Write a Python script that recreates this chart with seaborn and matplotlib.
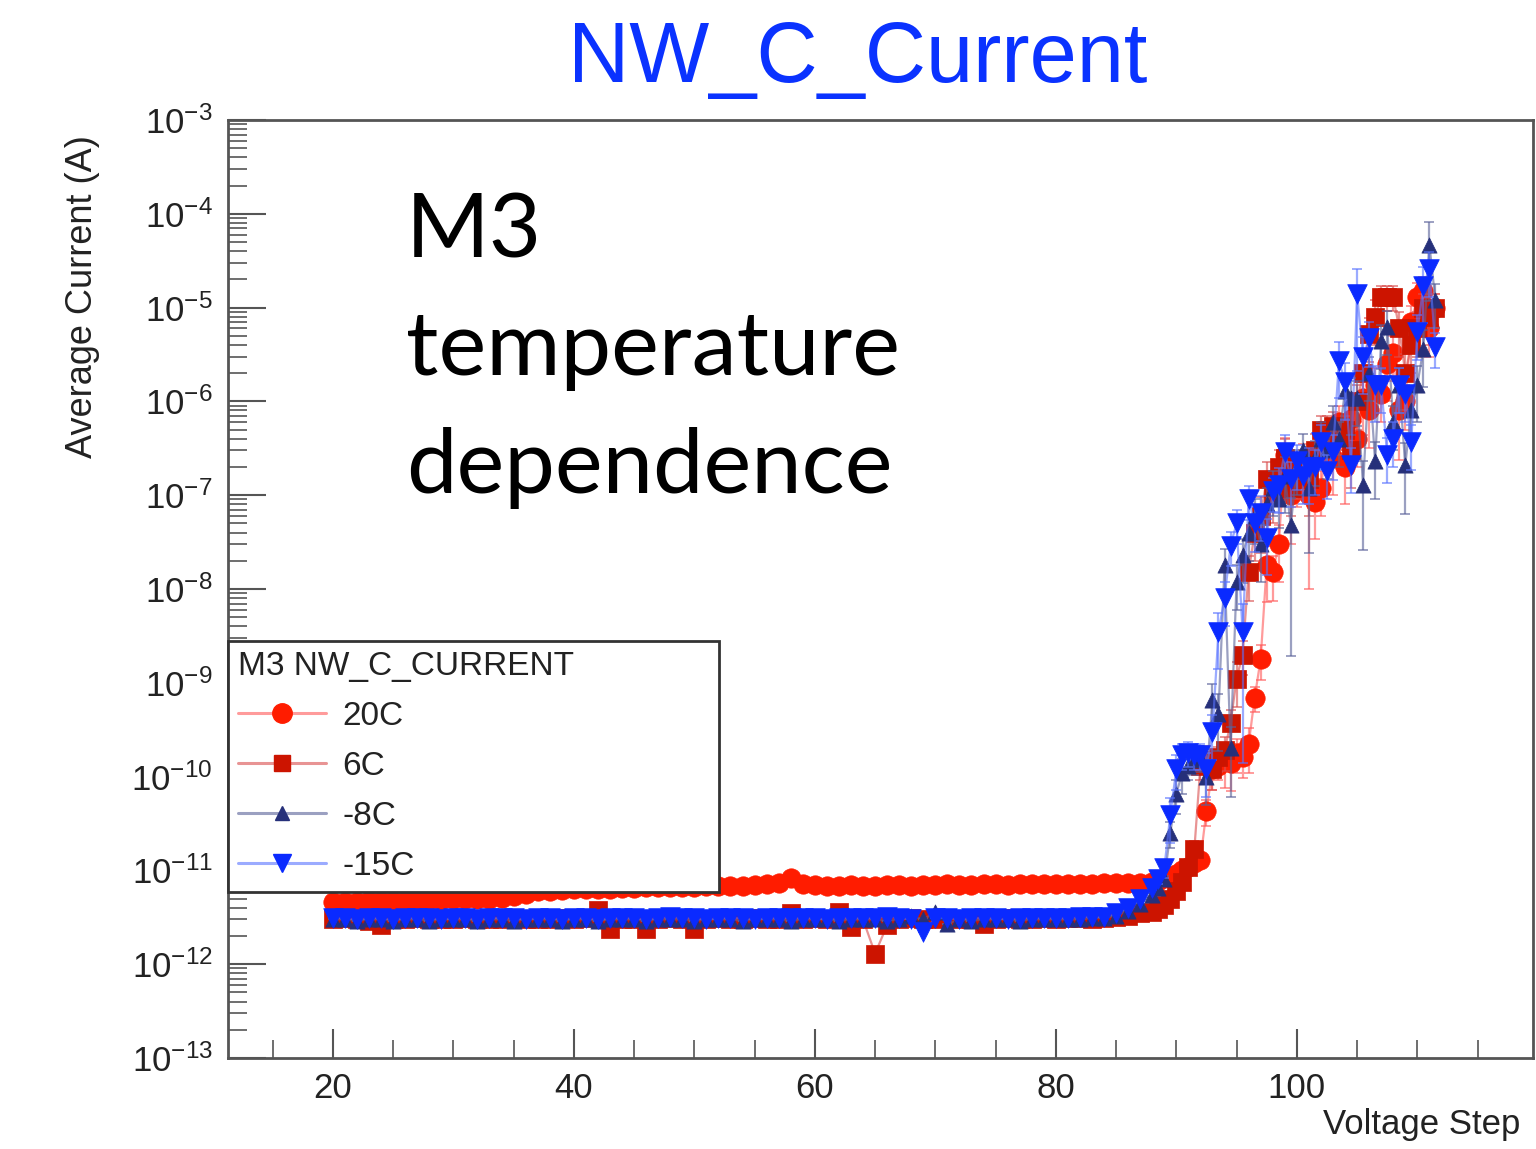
import numpy as np
import pandas as pd
import matplotlib
matplotlib.use("Agg")
import matplotlib.pyplot as plt
import seaborn as sns
from matplotlib.lines import Line2D
from matplotlib.ticker import MultipleLocator, FixedLocator, LogLocator, NullFormatter

# ---------------------------------------------------------------- data
# voltage steps: unit steps on the plateau, half steps through breakdown
steps_flat = list(range(20, 88))
steps_rise = [88 + 0.5 * k for k in range(48)]
steps = steps_flat + steps_rise

series_names = ["20C", "6C", "-8C", "-15C"]
decades = [1e-13, 1e-12, 1e-11, 1e-10, 1e-9, 1e-8, 1e-7, 1e-6, 1e-5, 1e-4, 1e-3]

# plateau currents (pA), steps 20..87
flat_20C = [4.6, 4.6, 4.6, 4.7, 4.7, 4.7, 4.7, 4.8, 4.8, 4.8, 4.9, 4.9, 5.0, 5.0, 5.1, 5.3, 5.6,
            6.0, 6.1, 6.2, 6.3, 6.3, 6.4, 6.4, 6.5, 6.5, 6.6, 6.6, 6.6, 6.7, 6.7, 6.8, 6.8, 6.9, 6.9, 7.0, 7.1, 7.3,
            8.2, 7.2,
            7.0, 6.9, 6.9, 7.0, 6.9, 6.9, 7.0, 7.0, 6.9, 7.0, 7.0, 7.1, 7.0, 7.0, 7.1, 7.1, 7.0, 7.1, 7.1, 7.1,
            7.2, 7.1, 7.2, 7.2, 7.3, 7.3, 7.3, 7.4]
flat_6C = [3.0, 3.1, 3.0, 2.9, 2.6, 3.0, 3.0, 3.1, 3.0, 3.0, 3.0, 3.1, 3.0, 3.0, 3.0, 3.1, 3.0, 3.0, 3.0, 3.1,
           3.0, 3.1, 3.8, 2.4, 3.0, 3.0, 2.4, 3.0, 3.1, 3.0, 2.4, 3.0, 3.1, 3.0, 3.0, 3.1, 3.0, 3.0, 3.5, 3.0,
           3.1, 3.0, 3.6, 2.5, 3.0, 1.3, 2.6, 3.0, 3.1, 3.0, 3.0, 3.1, 3.0, 3.0, 2.7, 3.0, 3.1, 3.0, 3.0, 3.1,
           3.0, 3.1, 3.1, 3.0, 3.1, 3.2, 3.3, 3.5]
flat_m8C = [3.0, 3.0, 2.9, 3.0, 3.0, 2.9, 3.0, 3.0, 2.9, 3.0, 3.0, 3.0, 2.9, 3.0, 3.0, 2.9, 3.0, 3.0, 3.0, 2.9,
            3.0, 3.0, 2.9, 3.0, 3.0, 3.0, 2.9, 3.0, 3.0, 3.0, 2.9, 3.0, 3.0, 3.0, 2.9, 3.0, 3.0, 3.0, 2.9, 3.0,
            3.0, 3.0, 2.9, 3.0, 3.0, 3.0, 2.9, 3.0, 3.3, 3.0, 3.6, 2.7, 3.0, 2.9, 3.0, 3.0, 3.0, 2.9, 3.0, 3.0,
            3.0, 3.0, 3.0, 3.1, 3.1, 3.3, 3.7, 4.4]
flat_m15C = [3.1, 3.1, 3.0, 3.1, 3.1, 3.0, 3.1, 3.1, 3.1, 3.0, 3.1, 3.1, 3.0, 3.1, 3.1, 3.1, 3.0, 3.1, 3.1, 3.0,
             3.1, 3.1, 3.0, 3.1, 3.1, 3.1, 3.0, 3.1, 3.2, 3.1, 3.1, 3.0, 3.1, 3.1, 3.1, 3.0, 3.1, 3.1, 3.1, 3.1,
             3.1, 3.0, 3.1, 3.1, 3.1, 3.1, 3.2, 3.1, 3.0, 2.2, 3.1, 3.1, 3.0, 3.1, 3.1, 3.1, 3.0, 3.1, 3.1, 3.1,
             3.1, 3.1, 3.2, 3.2, 3.2, 3.5, 4.0, 5.0]

# breakdown currents (A), steps 88..111.5
rise_20C = [7.6e-12, 7.8e-12, 8.2e-12, 8.6e-12, 9.2e-12, 1.0e-11, 1.1e-11, 1.2e-11,
            1.3e-11, 4.3e-11, 1.2e-10, 1.3e-10, 1.5e-10, 1.4e-10, 1.8e-10, 1.6e-10,
            2.2e-10, 6.9e-10, 1.8e-9, 1.8e-8, 1.5e-8, 3.0e-8, 2.7e-7, 1.0e-7,
            1.5e-7, 2.2e-7, 1.0e-7, 8.5e-8, 1.2e-7, 4.0e-7, 2.5e-7, 6.0e-7,
            2.0e-7, 6.5e-7, 4.0e-7, 1.1e-6, 8.0e-7, 1.5e-6, 1.2e-6, 2.5e-6,
            3.3e-6, 8.0e-7, 1.0e-6, 7.0e-6, 1.3e-5, 1.5e-5, 6.0e-6, 1.0e-5]
rise_6C = [3.6e-12, 3.9e-12, 4.3e-12, 5.0e-12, 6.0e-12, 7.6e-12, 1.1e-11, 1.7e-11,
           1.3e-10, 1.5e-10, 1.2e-10, 1.6e-10, 1.9e-10, 3.7e-10, 1.1e-9, 2.0e-9,
           1.5e-8, 4.0e-8, 6.0e-8, 1.5e-7, 1.0e-7, 2.0e-7, 2.5e-7, 1.2e-7,
           1.8e-7, 2.0e-7, 1.5e-7, 3.0e-7, 5.0e-7, 5.0e-7, 5.5e-7, 4.5e-7,
           5.0e-7, 3.0e-7, 1.0e-6, 2.0e-6, 5.2e-6, 8.0e-6, 1.3e-5, 1.3e-5,
           1.3e-5, 6.0e-6, 2.0e-6, 4.0e-6, 6.0e-6, 1.0e-5, 8.0e-6, 1.0e-5]
rise_m8C = [5.5e-12, 6.5e-12, 8.0e-12, 2.5e-11, 6.6e-11, 1.1e-10, 1.3e-10, 1.5e-10,
            1.6e-10, 1.0e-10, 6.5e-10, 4.7e-10, 1.8e-8, 2.0e-10, 1.2e-8, 2.3e-8,
            4.0e-8, 6.0e-8, 3.0e-8, 8.0e-8, 1.2e-7, 9.0e-8, 1.6e-7, 4.8e-8,
            2.0e-7, 3.0e-7, 1.2e-7, 2.5e-7, 4.0e-7, 3.0e-7, 6.0e-7, 4.0e-7,
            1.3e-6, 1.1e-6, 1.1e-6, 1.3e-7, 2.0e-6, 2.3e-7, 4.4e-6, 6.2e-6,
            6.0e-7, 1.5e-6, 2.1e-7, 8.0e-7, 1.5e-6, 3.6e-6, 4.7e-5, 1.2e-5]
rise_m15C = [6.5e-12, 8.0e-12, 1.05e-11, 3.9e-11, 1.2e-10, 1.7e-10, 1.8e-10, 1.7e-10,
             1.7e-10, 1.2e-10, 3.0e-10, 3.5e-9, 8.0e-9, 2.9e-8, 5.0e-8, 3.5e-9,
             9.0e-8, 5.0e-8, 6.5e-8, 3.5e-8, 1.1e-7, 1.3e-7, 2.9e-7, 1.5e-7,
             2.3e-7, 1.6e-7, 2.0e-7, 2.0e-7, 3.7e-7, 1.8e-7, 2.9e-7, 2.7e-6,
             1.6e-6, 2.1e-7, 1.4e-5, 3.0e-6, 4.7e-6, 1.5e-6, 1.5e-6, 2.7e-7,
             4.0e-7, 1.5e-6, 1.2e-6, 3.7e-7, 5.5e-6, 1.7e-5, 2.6e-5, 3.8e-6]

# relative uncertainties through breakdown
relerr_20C = [0.05, 0.05, 0.05, 0.05, 0.05, 0.05, 0.05, 0.1,
              0.1, 0.3, 0.4, 0.3, 0.5, 0.5, 0.4, 0.4,
              0.5, 0.3, 0.4, 0.6, 0.5, 0.6, 0.5, 0.7,
              0.5, 0.6, 0.9, 0.6, 0.5, 0.5, 0.6, 0.5,
              0.6, 0.5, 0.5, 0.6, 0.6, 0.5, 0.5, 0.6,
              0.5, 0.7, 0.5, 0.5, 0.4, 0.4, 0.5, 0.4]
relerr_6C = [0.05, 0.05, 0.05, 0.05, 0.05, 0.05, 0.1, 0.2,
             0.3, 0.4, 0.4, 0.3, 0.4, 0.4, 0.5, 0.4,
             0.5, 0.5, 0.6, 0.5, 0.5, 0.5, 0.6, 0.5,
             0.5, 0.5, 0.6, 0.5, 0.4, 0.4, 0.4, 0.4,
             0.4, 0.6, 0.5, 0.5, 0.5, 0.5, 0.3, 0.3,
             0.3, 0.5, 0.6, 0.5, 0.5, 0.4, 0.5, 0.4]
relerr_m8C = [0.05, 0.05, 0.1, 0.3, 0.4, 0.4, 0.3, 0.3,
              0.3, 0.5, 0.5, 0.6, 0.5, 0.7, 0.5, 0.5,
              0.5, 0.5, 0.6, 0.5, 0.5, 0.5, 0.6, 0.96,
              0.5, 0.5, 0.8, 0.5, 0.5, 0.5, 0.5, 0.5,
              0.5, 0.6, 0.5, 0.8, 0.5, 0.6, 0.5, 0.5,
              0.5, 0.5, 0.7, 0.5, 0.6, 0.6, 0.75, 0.5]
relerr_m15C = [0.05, 0.1, 0.2, 0.5, 0.4, 0.3, 0.3, 0.3,
               0.3, 0.5, 0.5, 0.6, 0.5, 0.4, 0.4, 0.96,
               0.4, 0.5, 0.5, 0.6, 0.4, 0.5, 0.5, 0.5,
               0.5, 0.5, 0.6, 0.5, 0.5, 0.5, 0.5, 0.6,
               0.6, 0.5, 0.85, 0.6, 0.5, 0.6, 0.5, 0.5,
               0.5, 0.5, 0.5, 0.5, 0.5, 0.6, 0.5, 0.4]

flat_vals = {"20C": flat_20C, "6C": flat_6C, "-8C": flat_m8C, "-15C": flat_m15C}
rise_vals = {"20C": rise_20C, "6C": rise_6C, "-8C": rise_m8C, "-15C": rise_m15C}
rel_errs = {"20C": relerr_20C, "6C": relerr_6C, "-8C": relerr_m8C, "-15C": relerr_m15C}

frames = []
for name in series_names:
    current = np.concatenate([np.array(flat_vals[name]) * 1e-12, np.array(rise_vals[name])])
    rel = np.concatenate([np.zeros(len(steps_flat)), np.array(rel_errs[name])])
    frames.append(pd.DataFrame({"step": steps, "current": current,
                                "err": current * rel, "series": name}))
df = pd.concat(frames, ignore_index=True)

# ---------------------------------------------------------------- style
styles = {
    "20C":  dict(color="#ff1c00", line=(1.0, 0.35, 0.35, 0.6), marker="o", s=195, ms=14),
    "6C":   dict(color="#cc1400", line=(0.85, 0.3, 0.3, 0.6), marker="s", s=160, ms=12),
    "-8C":  dict(color="#26307a", line=(0.35, 0.38, 0.6, 0.6), marker="^", s=120, ms=10),
    "-15C": dict(color="#0a2aff", line=(0.35, 0.45, 1.0, 0.6), marker="v", s=200, ms=13),
}

sns.set_theme(style="white")
plt.rcParams["font.family"] = ["Liberation Sans", "DejaVu Sans"]
plt.rcParams["mathtext.fontset"] = "custom"
plt.rcParams["mathtext.rm"] = "Liberation Sans"
plt.rcParams["mathtext.it"] = "Liberation Sans:italic"
plt.rcParams["mathtext.bf"] = "Liberation Sans:bold"
plt.rcParams["mathtext.default"] = "regular"

W, H = 1536, 1149
fig = plt.figure(figsize=(W / 100, H / 100), dpi=100)
ax = fig.add_axes([228 / W, 1 - 1058 / H, 1305 / W, 938 / H])
ax.set_yscale("log")

for i, name in enumerate(series_names):
    st = styles[name]
    sub = df[df["series"] == name]
    z = 3 + i * 0.1
    sns.lineplot(data=sub, x="step", y="current", color=st["line"], lw=1.6,
                 estimator=None, sort=False, legend=False, ax=ax, zorder=z)
    ax.errorbar(sub["step"], sub["current"], yerr=sub["err"], fmt="none",
                ecolor=st["line"], elinewidth=1.6, capsize=3.5, capthick=1.4, zorder=z + 0.01)
    sns.scatterplot(data=sub, x="step", y="current", marker=st["marker"], s=st["s"],
                    color=st["color"], edgecolor=st["color"], linewidth=0.5,
                    legend=False, ax=ax, zorder=z + 0.02)

ax.set_xlim(11.3, 119.6)
ax.set_ylim(decades[0], decades[-1])

ax.xaxis.set_major_locator(MultipleLocator(20))
ax.xaxis.set_minor_locator(MultipleLocator(5))
ax.yaxis.set_major_locator(FixedLocator(decades))
ax.yaxis.set_minor_locator(LogLocator(base=10, subs=np.arange(2, 10), numticks=200))
ax.yaxis.set_minor_formatter(NullFormatter())

tick_col = "#555555"
ax.tick_params(axis="y", which="major", direction="in", length=27, width=1.5, color=tick_col,
               labelsize=25, pad=11, labelcolor="#222222", left=True, right=False)
ax.tick_params(axis="y", which="minor", direction="in", length=14, width=1.2, color=tick_col,
               left=True, right=False)
ax.tick_params(axis="x", which="major", direction="in", length=21, width=1.5, color=tick_col,
               labelsize=25, pad=10, labelcolor="#222222", bottom=True, top=False)
ax.tick_params(axis="x", which="minor", direction="in", length=13, width=1.2, color=tick_col,
               bottom=True, top=False)

for sp in ax.spines.values():
    sp.set_visible(True)
    sp.set_color("#555555")
    sp.set_linewidth(2)

ax.set_xlabel("Voltage Step", fontsize=25, color="#222222", loc="right")
ax.xaxis.set_label_coords(0.99, -0.053)
ax.set_ylabel("Average Current (A)", fontsize=26, color="#222222", loc="top")
ax.yaxis.set_label_coords(-0.098, 0.984)

handles = []
for name in series_names:
    st = styles[name]
    handles.append(Line2D([0], [0], color=st["line"], lw=2.2, marker=st["marker"],
                          markersize=st["ms"], markerfacecolor=st["color"],
                          markeredgecolor=st["color"]))
leg = ax.legend(handles=handles, labels=series_names, title="M3 NW_C_CURRENT",
                loc="upper left", bbox_to_anchor=(0.0, 0.182, 0.376, 0.2625), mode="expand",
                borderaxespad=0, fontsize=24, title_fontsize=24, alignment="left",
                frameon=True, fancybox=False, framealpha=1, edgecolor="#333333",
                handlelength=2.64, handletextpad=0.5, labelspacing=0.57, borderpad=0.3)
leg.get_frame().set_linewidth(2)
leg.set_zorder(10)
for t in leg.get_texts():
    t.set_color("#222222")
leg.get_title().set_color("#222222")

fig.text(858 / W, 1 - 82 / H, "NW_C_Current", ha="center", va="baseline",
         fontsize=61, color="#0a32ff")

for txt, base in [("M3", 258), ("temperature", 375), ("dependence", 493)]:
    fig.text(406 / W, 1 - base / H, txt, ha="left", va="baseline", fontsize=65,
             family=["Lato", "DejaVu Sans"], color="black", zorder=20)

fig.savefig("out.png", dpi=100)
